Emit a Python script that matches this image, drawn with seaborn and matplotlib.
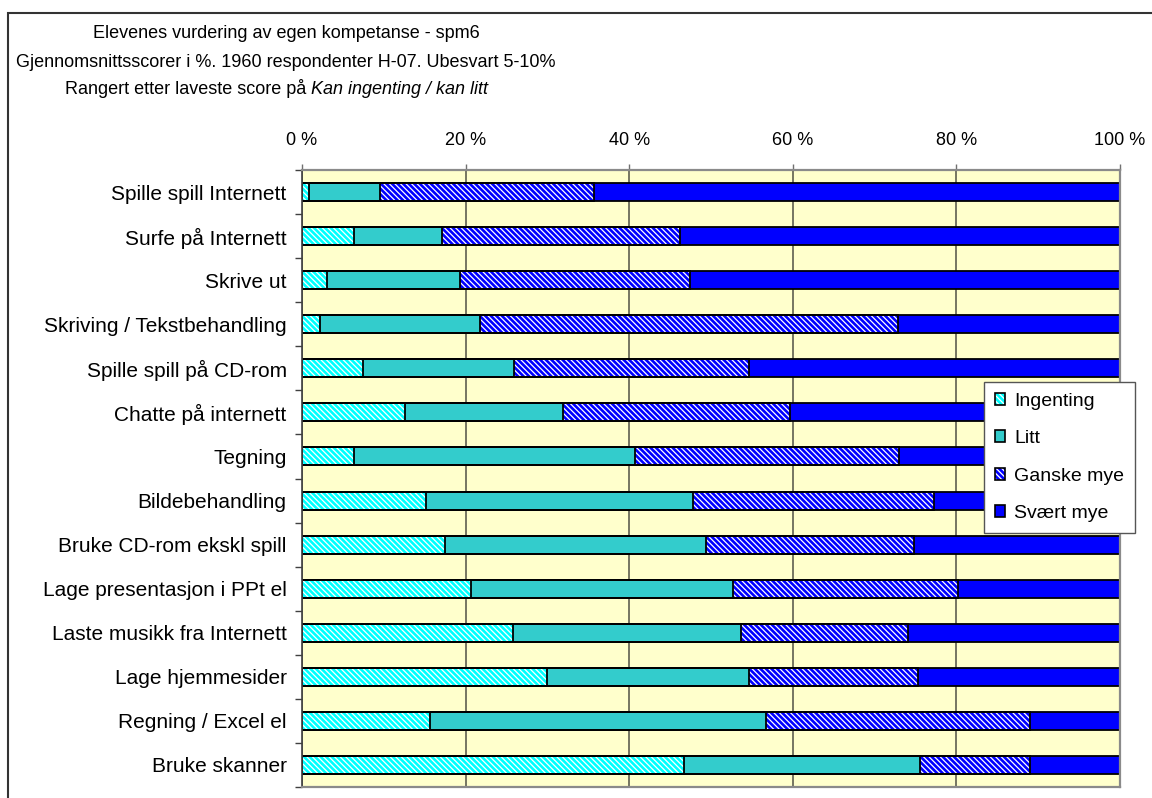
import numpy as np
import matplotlib
matplotlib.use("Agg")
import matplotlib.pyplot as plt
import seaborn as sns
from matplotlib.patches import Patch, Rectangle

# ---------------- data ----------------
categories = [
    "Spille spill Internett", "Surfe på Internett", "Skrive ut",
    "Skriving / Tekstbehandling", "Spille spill på CD-rom", "Chatte på internett",
    "Tegning", "Bildebehandling", "Bruke CD-rom ekskl spill",
    "Lage presentasjon i PPt el", "Laste musikk fra Internett", "Lage hjemmesider",
    "Regning / Excel el", "Bruke skanner",
]
series_names = ["Ingenting", "Litt", "Ganske mye", "Svært mye"]
ingenting = [0.9, 6.3, 3.1, 2.2, 7.5, 12.6, 6.3, 15.1, 17.5, 20.7, 25.8, 30.0, 15.6, 46.7]
litt = [8.6, 10.8, 16.2, 19.6, 18.4, 19.3, 34.4, 32.7, 31.9, 32.0, 27.9, 24.7, 41.1, 28.8]
ganske_mye = [26.2, 29.1, 28.1, 51.1, 28.8, 27.8, 32.3, 29.5, 25.4, 27.5, 20.4, 20.6, 32.3, 13.5]
svaert_mye = [64.3, 53.8, 52.6, 27.1, 45.3, 40.3, 27.0, 22.7, 25.2, 19.8, 25.9, 24.7, 11.0, 11.0]
x_ticks = [0, 20, 40, 60, 80, 100]
x_tick_labels = ["0 %", "20 %", "40 %", "60 %", "80 %", "100 %"]
title_lines = [
    "Elevenes vurdering av egen kompetanse - spm6",
    "Gjennomsnittsscorer i %. 1960 respondenter H-07. Ubesvart 5-10%",
]
title3_plain = "Rangert etter laveste score på"
title3_italic = "Kan ingenting / kan litt"

# ---------------- style ----------------
sns.set_theme(style="white")
plt.rcParams['font.family'] = ['Liberation Sans', 'DejaVu Sans']
plt.rcParams['hatch.linewidth'] = 0.9
plt.rcParams['text.color'] = 'black'

face_colors = ['#00FFFF', '#33CCCC', '#0000FF', '#0000FF']
hatch_colors = ['#FFFFFF', None, '#FFFFFF', None]
HATCH = '\\' * 6
BAR_W = 0.41

W, H = 1152, 798
fig = plt.figure(figsize=(W / 100, H / 100), dpi=100)
ax = fig.add_axes([302 / W, 1 - 787 / H, (1120 - 302) / W, (787 - 170) / H])
ax.set_facecolor('#FFFFCC')

values = np.array([ingenting, litt, ganske_mye, svaert_mye])
cum = np.cumsum(values, axis=0)

# filled layers (drawn from the longest cumulative bar to the shortest)
for i in reversed(range(4)):
    n0 = len(ax.patches)
    sns.barplot(x=cum[i], y=categories, orient='h', color=face_colors[i],
                saturation=1, width=BAR_W, errorbar=None, ax=ax, linewidth=0)
    for p in ax.patches[n0:]:
        p.set_facecolor(face_colors[i])
        if hatch_colors[i] is not None:
            p.set_hatch(HATCH)
            p.set_edgecolor(hatch_colors[i])
        else:
            p.set_edgecolor(face_colors[i])
        p.set_linewidth(0)

# outlines of every segment
for i in reversed(range(4)):
    sns.barplot(x=cum[i], y=categories, orient='h', color='black', fill=False,
                width=BAR_W, errorbar=None, ax=ax, linewidth=1.3)

ax.set_xlim(0, 100)
ax.set_ylim(len(categories) - 0.5, -0.5)
ax.set_xlabel('')
ax.set_ylabel('')

# grid
ax.set_axisbelow(True)
ax.xaxis.grid(True, color='#5f5f50', linewidth=1.2)
ax.yaxis.grid(False)

# x axis on top
ax.xaxis.tick_top()
ax.set_xticks(x_ticks)
ax.set_xticklabels(x_tick_labels, fontsize=13)
ax.tick_params(axis='x', which='major', top=True, bottom=False, length=4,
               width=1, color='#707070', pad=11, labelsize=13, labelcolor='black')

# y axis: ticks between categories
ax.set_yticks(np.arange(-0.5, len(categories), 1), minor=True)
ax.tick_params(axis='y', which='major', left=False, length=0, pad=11,
               labelsize=15, labelcolor='black')
ax.tick_params(axis='y', which='minor', left=True, length=5, width=1, color='#404040')

for side in ['top', 'right', 'bottom']:
    ax.spines[side].set_color('#8a8a8a')
    ax.spines[side].set_linewidth(1.6)
ax.spines['left'].set_color('#404040')
ax.spines['left'].set_linewidth(1.2)

# legend
handles = []
for i in range(4):
    if hatch_colors[i] is not None:
        fill = Patch(facecolor=face_colors[i], hatch=HATCH, edgecolor=hatch_colors[i], linewidth=0)
    else:
        fill = Patch(facecolor=face_colors[i], edgecolor=face_colors[i], linewidth=0)
    outline = Patch(facecolor='none', edgecolor='black', linewidth=1.2)
    handles.append((fill, outline))
leg = ax.legend(handles, series_names, loc='upper left',
                bbox_to_anchor=((984 - 302) / 818, 1 - (382 - 170) / 617),
                frameon=True, fancybox=False, framealpha=1, edgecolor='#555555',
                fontsize=14, handlelength=0.55, handleheight=0.55,
                handletextpad=0.45, labelspacing=1.05, borderpad=0.55,
                borderaxespad=0)
leg.get_frame().set_linewidth(1.0)
for t in leg.get_texts():
    t.set_color('black')

# titles
fig.text(286 / W, 1 - 38 / H, title_lines[0], ha='center', va='baseline', fontsize=13, color='black')
fig.text(286 / W, 1 - 67 / H, title_lines[1], ha='center', va='baseline', fontsize=13, color='black')
t1 = fig.text(65 / W, 1 - 94 / H, title3_plain, ha='left', va='baseline', fontsize=13, color='black')
fig.canvas.draw()
bb = t1.get_window_extent(fig.canvas.get_renderer())
fig.text((bb.x1 + 4.5) / W, 1 - 94 / H, title3_italic, ha='left', va='baseline',
         fontsize=13, style='italic', color='black')

# outer chart border
fig.patches.append(Rectangle((8 / W, -0.1), 1.2, 1.1 - 13 / H, transform=fig.transFigure,
                             fill=False, edgecolor='#333333', linewidth=1.5))

fig.savefig('out.png', dpi=100)
